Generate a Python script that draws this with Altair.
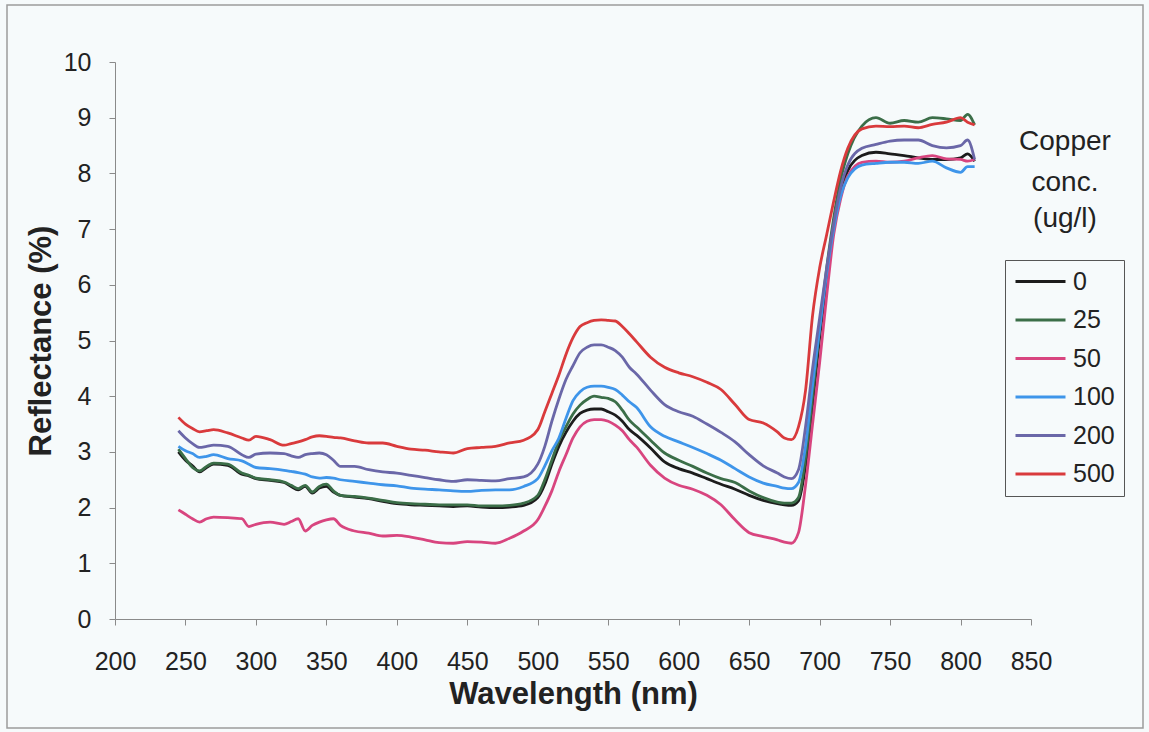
import altair as alt
import pandas as pd

# Wavelength grid (nm) shared by every spectrum
wavelength = [245, 250, 255, 260, 265, 270, 280, 290, 295, 300, 310, 320, 325, 330, 335,
              340, 345, 350, 355, 360, 370, 380, 390, 400, 410, 420, 430, 440, 450, 460,
              470, 480, 490, 500, 505, 510, 515, 520, 525, 530, 535, 540, 545, 550, 555,
              560, 565, 570, 580, 590, 600, 610, 620, 630, 640, 650, 660, 670, 675, 680,
              685, 690, 695, 700, 705, 710, 715, 720, 730, 740, 750, 760, 770, 780, 790,
              800, 805, 810]

# Reflectance (%) for each copper concentration (ug/l)
refl_0 = [3.00, 2.85, 2.75, 2.64, 2.72, 2.78, 2.76, 2.60, 2.57, 2.52, 2.49, 2.45, 2.38, 2.32, 2.38,
          2.26, 2.35, 2.38, 2.28, 2.22, 2.19, 2.16, 2.11, 2.07, 2.05, 2.04, 2.03, 2.02, 2.03, 2.01,
          2.00, 2.01, 2.04, 2.18, 2.42, 2.78, 3.10, 3.35, 3.55, 3.69, 3.75, 3.77, 3.77, 3.72, 3.66,
          3.55, 3.40, 3.30, 3.07, 2.82, 2.70, 2.62, 2.52, 2.42, 2.33, 2.22, 2.13, 2.07, 2.05, 2.04,
          2.12, 2.75, 3.85, 5.05, 6.10, 7.05, 7.65, 8.05, 8.32, 8.38, 8.35, 8.32, 8.28, 8.25, 8.25,
          8.28, 8.35, 8.22]
refl_25 = [3.05, 2.88, 2.72, 2.66, 2.74, 2.80, 2.78, 2.62, 2.58, 2.53, 2.50, 2.46, 2.40, 2.34, 2.40,
           2.28, 2.38, 2.42, 2.30, 2.22, 2.20, 2.17, 2.13, 2.09, 2.07, 2.06, 2.05, 2.05, 2.05, 2.03,
           2.03, 2.04, 2.08, 2.22, 2.50, 2.85, 3.20, 3.45, 3.68, 3.84, 3.94, 4.00, 3.98, 3.96, 3.90,
           3.75, 3.57, 3.45, 3.21, 2.98, 2.85, 2.74, 2.62, 2.52, 2.45, 2.30, 2.18, 2.10, 2.08, 2.08,
           2.18, 2.90, 4.00, 5.20, 6.30, 7.20, 7.90, 8.35, 8.85, 9.00, 8.90, 8.95, 8.92, 9.00, 8.98,
           8.95, 9.06, 8.87]
refl_50 = [1.96, 1.88, 1.80, 1.74, 1.80, 1.83, 1.82, 1.80, 1.66, 1.70, 1.74, 1.70, 1.75, 1.80, 1.58,
           1.68, 1.74, 1.78, 1.80, 1.68, 1.58, 1.54, 1.49, 1.50, 1.47, 1.42, 1.37, 1.36, 1.39, 1.38,
           1.36, 1.45, 1.58, 1.78, 2.02, 2.30, 2.65, 2.95, 3.25, 3.45, 3.55, 3.58, 3.58, 3.55, 3.48,
           3.38, 3.22, 3.09, 2.76, 2.53, 2.40, 2.33, 2.22, 2.05, 1.78, 1.55, 1.48, 1.42, 1.38, 1.36,
           1.55, 2.40, 3.50, 4.60, 5.80, 6.90, 7.55, 7.95, 8.20, 8.22, 8.20, 8.22, 8.28, 8.32, 8.26,
           8.25, 8.22, 8.25]
refl_100 = [3.10, 3.02, 2.97, 2.90, 2.92, 2.95, 2.88, 2.84, 2.78, 2.72, 2.70, 2.67, 2.65, 2.63, 2.60,
            2.55, 2.53, 2.54, 2.53, 2.50, 2.47, 2.44, 2.41, 2.39, 2.35, 2.33, 2.32, 2.30, 2.29, 2.31,
            2.32, 2.32, 2.38, 2.52, 2.75, 3.02, 3.25, 3.60, 3.92, 4.08, 4.16, 4.18, 4.18, 4.16, 4.12,
            4.02, 3.90, 3.80, 3.45, 3.28, 3.18, 3.08, 2.97, 2.85, 2.70, 2.55, 2.44, 2.38, 2.35, 2.34,
            2.45, 3.10, 4.20, 5.20, 6.20, 7.00, 7.60, 7.92, 8.15, 8.18, 8.20, 8.20, 8.18, 8.22, 8.10,
            8.02, 8.12, 8.12]
refl_200 = [3.38, 3.25, 3.15, 3.08, 3.10, 3.12, 3.10, 2.95, 2.90, 2.96, 2.98, 2.97, 2.93, 2.90, 2.95,
            2.97, 2.98, 2.95, 2.85, 2.74, 2.74, 2.68, 2.64, 2.62, 2.58, 2.54, 2.50, 2.47, 2.50, 2.49,
            2.48, 2.52, 2.55, 2.78, 3.10, 3.55, 3.95, 4.30, 4.55, 4.78, 4.88, 4.92, 4.92, 4.88, 4.82,
            4.70, 4.52, 4.40, 4.11, 3.85, 3.72, 3.64, 3.50, 3.35, 3.18, 2.95, 2.75, 2.62, 2.55, 2.52,
            2.68, 3.45, 4.50, 5.40, 6.30, 7.10, 7.75, 8.15, 8.45, 8.52, 8.58, 8.60, 8.60, 8.50, 8.46,
            8.50, 8.60, 8.25]
refl_500 = [3.62, 3.50, 3.42, 3.36, 3.38, 3.40, 3.34, 3.25, 3.21, 3.28, 3.22, 3.12, 3.15, 3.18, 3.22,
            3.27, 3.29, 3.28, 3.26, 3.25, 3.20, 3.16, 3.16, 3.10, 3.05, 3.03, 3.00, 2.98, 3.06, 3.08,
            3.10, 3.16, 3.21, 3.40, 3.72, 4.05, 4.38, 4.75, 5.05, 5.25, 5.32, 5.36, 5.37, 5.36, 5.35,
            5.25, 5.12, 4.98, 4.70, 4.52, 4.42, 4.35, 4.25, 4.12, 3.85, 3.58, 3.52, 3.36, 3.25, 3.22,
            3.45, 4.10, 5.45, 6.30, 6.90, 7.50, 8.05, 8.45, 8.80, 8.85, 8.84, 8.85, 8.82, 8.88, 8.92,
            9.00, 8.92, 8.87]

concentrations = ["0", "25", "50", "100", "200", "500"]
series = [refl_0, refl_25, refl_50, refl_100, refl_200, refl_500]
line_colors = ["#1c1c1c", "#3b6e48", "#d8457f", "#3e95ea", "#6a67a8", "#d93a3c"]
x_ticks = list(range(200, 851, 50))
y_ticks = list(range(0, 11))

rows = []
for conc, values in zip(concentrations, series):
    for wl, r in zip(wavelength, values):
        rows.append({"Wavelength": wl, "Reflectance": r, "conc": conc})
df = pd.DataFrame(rows)

FONT = "Liberation Sans"
PANEL = "#f6fafb"
INK = "#222222"

# Outer chart frame (outline only; the panel colour is the chart background)
frame = alt.Chart(alt.Data(values=[{}])).mark_rect(
    fillOpacity=0, stroke="#9c9c9c", strokeWidth=1.5, clip=False
).encode(
    x=alt.value(-108), x2=alt.value(1028), y=alt.value(-57), y2=alt.value(666)
)

lines = alt.Chart(df).mark_line(strokeWidth=2.8, interpolate="monotone").encode(
    x=alt.X("Wavelength:Q",
            scale=alt.Scale(domain=[200, 850], nice=False, zero=False),
            axis=alt.Axis(title="Wavelength (nm)", values=x_ticks, format="d",
                          grid=False, domain=True, ticks=True, zindex=1,
                          labelFlush=False, labelOverlap=False)),
    y=alt.Y("Reflectance:Q",
            scale=alt.Scale(domain=[0, 10], nice=False),
            axis=alt.Axis(title="Reflectance (%)", values=y_ticks, format="d",
                          grid=False, domain=True, ticks=True, zindex=1,
                          labelFlush=False, labelOverlap=False)),
    color=alt.Color("conc:N",
                    scale=alt.Scale(domain=concentrations, range=line_colors),
                    sort=concentrations,
                    legend=alt.Legend(
                        title=None, orient="none", legendX=890, legendY=198,
                        symbolType="stroke", symbolSize=2500, symbolStrokeWidth=2.8,
                        labelFont=FONT, labelFontSize=25, labelColor=INK,
                        labelOffset=6, rowPadding=12.5, clipHeight=25,
                        strokeColor="#555555", fillColor=PANEL, padding=9,
                    )),
    detail="conc:N",
)

title_lines = ["Copper", "conc.", "(ug/l)"]
title_y = [80, 121, 157]
legend_title = alt.layer(*[
    alt.Chart(alt.Data(values=[{}])).mark_text(
        text=t, font=FONT, fontSize=28, color=INK, align="center", baseline="middle"
    ).encode(x=alt.value(950), y=alt.value(yv))
    for t, yv in zip(title_lines, title_y)
])

chart = alt.layer(lines, frame, legend_title).properties(
    width=916, height=557,
    autosize=alt.AutoSizeParams(type="none"),
    padding={"left": 115, "top": 62, "right": 118, "bottom": 113},
    background=PANEL,
).configure_view(stroke=None).configure_axis(
    domainColor="#8a8a8a", tickColor="#8a8a8a", tickSize=6,
    labelFont=FONT, labelFontSize=25, labelColor=INK,
    titleFont=FONT, titleFontSize=31, titleFontWeight="bold", titleColor=INK,
).configure_axisX(
    labelPadding=24, titlePadding=5
).configure_axisY(
    labelPadding=18, titlePadding=6
)

chart.save("out.html", embed_options={"renderer": "svg", "actions": False})
